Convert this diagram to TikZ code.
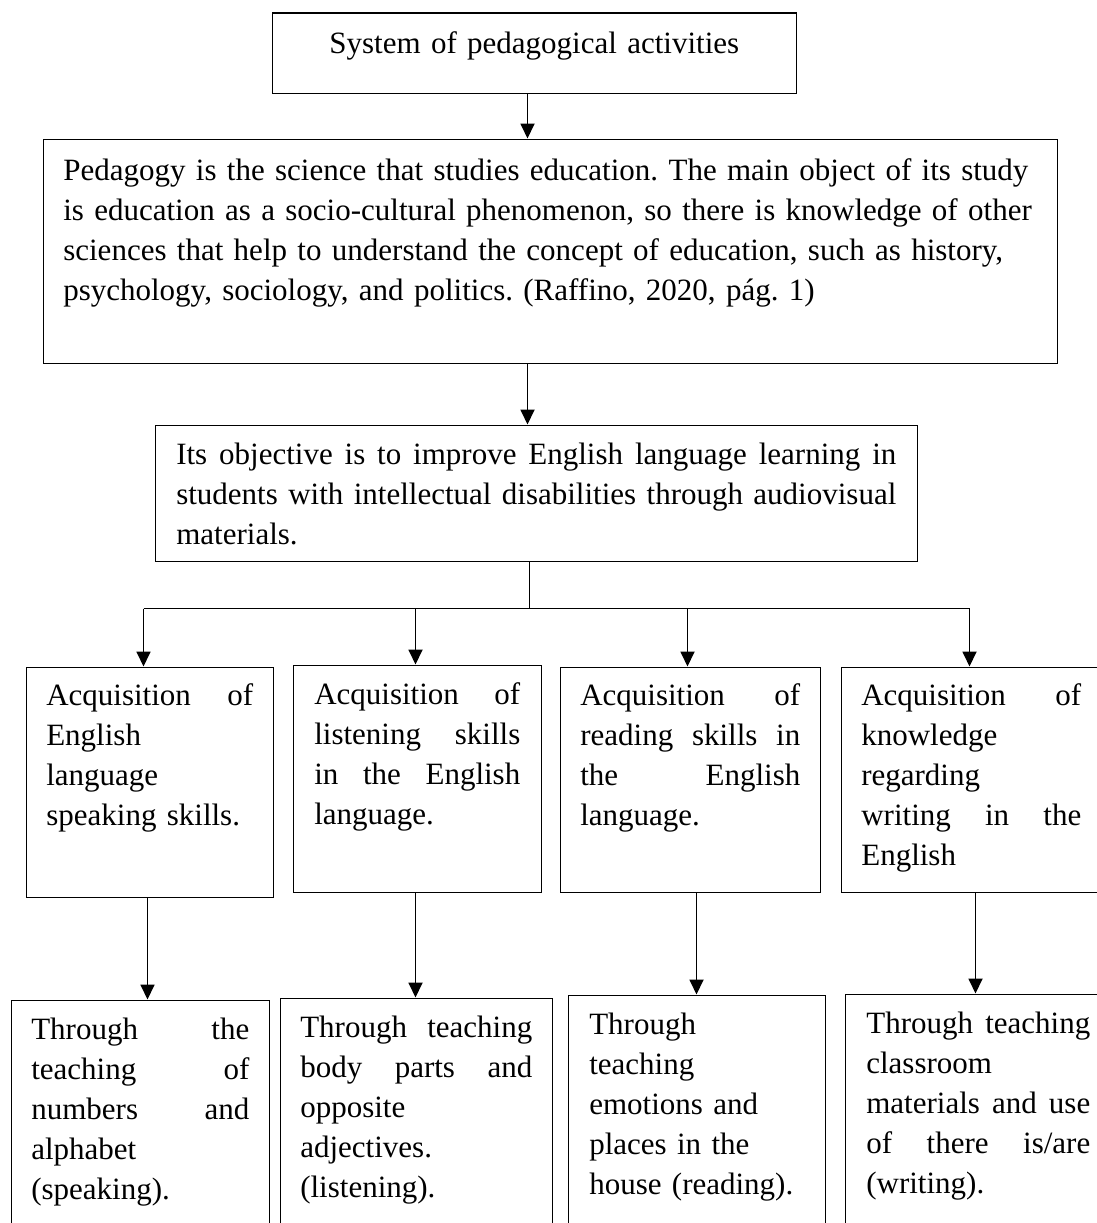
\documentclass[tikz,border=0pt]{standalone}
\usepackage{fontspec}
\setmainfont{Liberation Serif}
\usetikzlibrary{arrows.meta}
\newcommand\fs{\fontsize{31pt}{40pt}\selectfont\frenchspacing}
\newcommand\lft[1]{\leavevmode\mbox{#1}}
\begin{document}
\begin{tikzpicture}[x=1pt,y=-1pt,
  bx/.style={draw, line width=1.6pt, inner ysep=0pt, anchor=north west, align=left, font=\fs},
  conn/.style={line width=1.8pt},
  arr/.style={line width=1.8pt, -{Triangle[length=15pt,width=14pt]}}]
\useasboundingbox (0,0) rectangle (1097,1223);
\fill[white] (0,0) rectangle (1097,1223);
\clip (0,0) rectangle (1097,1223);

% level 1
\node[bx, align=center, inner xsep=0pt, text width=524pt, text height=40pt, text depth=40pt] (top) at (271.5,12.5)
  {System of pedagogical activities};

% level 2
\node[bx, inner xsep=20pt, text width=974pt, text height=41pt, text depth=183pt] (ped) at (42.5,138.5)
  {\lft{Pedagogy is the science that studies education. The main object of its study}\\
   \lft{is education as a socio-cultural phenomenon, so there is knowledge of other}\\
   \lft{sciences that help to understand the concept of education, such as history,}\\
   \lft{psychology, sociology, and politics. (Raffino, 2020, pág. 1)}};

% level 3
\node[bx, inner xsep=21pt, text width=720pt, text height=39pt, text depth=97pt] (obj) at (154.5,424.5)
  {Its\hfill objective\hfill is\hfill to\hfill improve\hfill English\hfill language\hfill learning\hfill in\\
   students\hfill with\hfill intellectual\hfill disabilities\hfill through\hfill audiovisual\\
   materials.};

% level 4
\node[bx, inner xsep=20pt, text width=207pt, text height=38pt, text depth=192pt] (A) at (25.5,666.5)
  {Acquisition\hfill of\\ English\\ language\\ speaking skills.};
\node[bx, inner xsep=21pt, text width=206pt, text height=39pt, text depth=188pt] (B) at (292.5,664.5)
  {Acquisition\hfill of\\ listening\hfill skills\\ in\hfill the\hfill English\\ language.};
\node[bx, inner xsep=20pt, text width=220pt, text height=38pt, text depth=187pt] (C) at (559.5,666.5)
  {Acquisition\hfill of\\ reading\hfill skills\hfill in\\ the\hfill English\\ language.};
\node[bx, inner xsep=20pt, text width=220pt, text height=38pt, text depth=187pt] (D) at (840.5,666.5)
  {Acquisition\hfill of\\ knowledge\\ regarding\\ writing\hfill in\hfill the\\ English};

% level 5
\node[bx, inner xsep=20pt, text width=218pt, text height=39pt, text depth=197pt] (E) at (10.5,999.5)
  {Through\hfill the\\ teaching\hfill of\\ numbers\hfill and\\ alphabet\\ (speaking).};
\node[bx, inner xsep=20pt, text width=232pt, text height=39pt, text depth=199pt] (F) at (279.5,997.5)
  {Through\hfill teaching\\ body\hfill parts\hfill and\\ opposite\\ adjectives.\\ (listening).};
\node[bx, inner xsep=21pt, text width=215pt, text height=39pt, text depth=189pt] (G) at (567.5,994.5)
  {Through\\ teaching\\ \lft{emotions and}\\ \lft{places in the}\\ \lft{house (reading).}};
\node[bx, inner xsep=21pt, text width=224pt, text height=39pt, text depth=203pt] (H) at (844.5,993.5)
  {Through\hfill teaching\\ classroom\\ materials\hfill and\hfill use\\ of\hfill there\hfill is/are\\ (writing).};

% connectors
\coordinate (ax) at (527.5,0);
\coordinate (busM) at (529.5,608.5);
\coordinate (busL) at (143.5,608.5);
\coordinate (busB) at (415.5,608.5);
\coordinate (busC) at (687.5,608.5);
\coordinate (busR) at (969.5,608.5);
\coordinate (dA) at (147.5,0);
\coordinate (dB) at (415.5,0);
\coordinate (dC) at (696.5,0);
\coordinate (dD) at (975.5,0);

\draw[arr] (ax |- top.south) -- (ax |- ped.north);
\draw[arr] (ax |- ped.south) -- (ax |- obj.north);
\draw[conn] (busM |- obj.south) -- (busM);
\draw[conn] (busL) -- (busR);
\draw[arr] (busL) -- (busL |- A.north);
\draw[arr] (busB) -- (busB |- B.north);
\draw[arr] (busC) -- (busC |- C.north);
\draw[arr] (busR) -- (busR |- D.north);

\draw[arr] (dA |- A.south) -- (dA |- E.north);
\draw[arr] (dB |- B.south) -- (dB |- F.north);
\draw[arr] (dC |- C.south) -- (dC |- G.north);
\draw[arr] (dD |- D.south) -- (dD |- H.north);
\end{tikzpicture}
\end{document}
